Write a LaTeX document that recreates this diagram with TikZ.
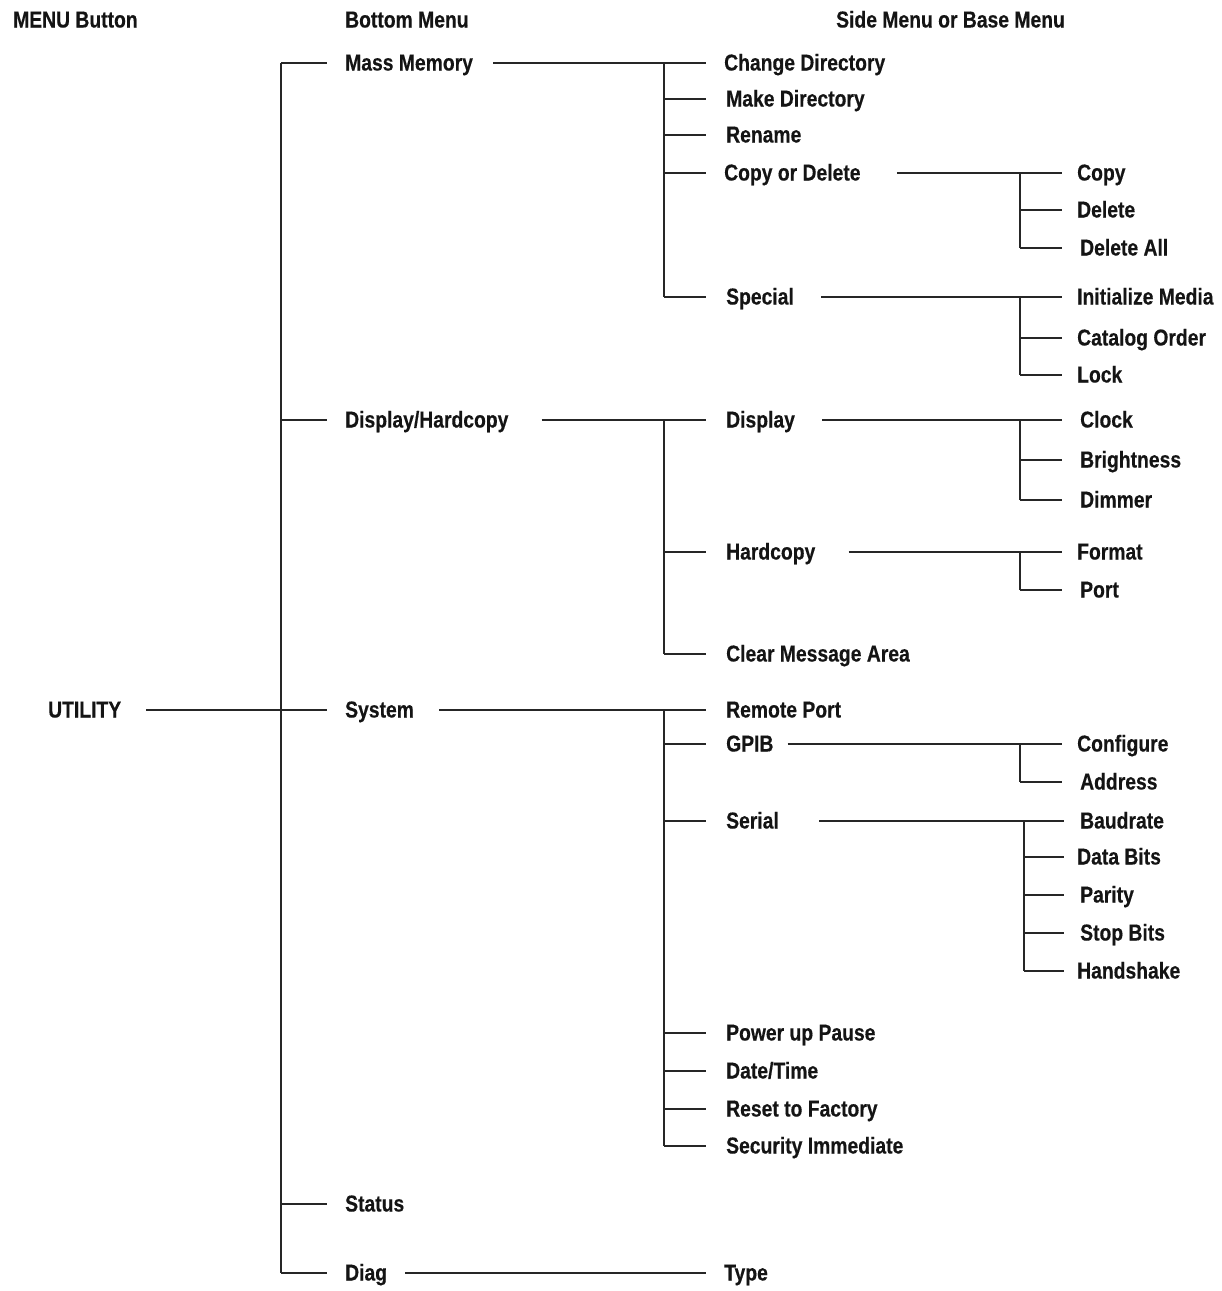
\documentclass[tikz,border=0pt]{standalone}
\usepackage{fontspec}
\setmainfont{Liberation Sans}[FakeStretch=0.84, FakeBold=0.4]
\usetikzlibrary{positioning, calc}
\tikzset{
    menuitem/.style={anchor=west, inner sep=0pt, text height=15pt, text depth=0pt, font=\bfseries\fontsize{23}{26}\selectfont, text=black!92},
    link/.style={draw=black!85, line width=1.3pt}
}

\begin{document}
\begin{tikzpicture}[x=1pt, y=-1pt]
        \useasboundingbox (0,0) rectangle (1222,1291);

        % Column headers
        \node[menuitem] (hbtn) at (13, 20) {MENU Button};
        \node[menuitem] (hbot) at (345, 20) {Bottom Menu};
        \node[menuitem] (hside) at (836, 20) {Side Menu or Base Menu};

        % Trunk positions
        \coordinate (lvone) at (281, 0);
        \coordinate (lvtwo) at (664, 0);
        \coordinate (lvthree) at (1020, 0);
        \coordinate (lvser) at (1024, 0);

        % Button and bottom menu
        \node[menuitem] (util) at (48, 710) {UTILITY};
        \node[menuitem] (mm) at (345, 63) {Mass Memory};
        \node[menuitem] (dh) at (345, 420) {Display/Hardcopy};
        \node[menuitem] (sys) at (345, 710) {System};
        \node[menuitem] (stat) at (345, 1204) {Status};
        \node[menuitem] (diag) at (345, 1273) {Diag};

        % Side menu
        \node[menuitem] (cd) at (724, 63) {Change Directory};
        \node[menuitem] (md) at (726, 99) {Make Directory};
        \node[menuitem] (ren) at (726, 135) {Rename};
        \node[menuitem] (cod) at (724, 173) {Copy or Delete};
        \node[menuitem] (spec) at (726, 297) {Special};
        \node[menuitem] (disp) at (726, 420) {Display};
        \node[menuitem] (hc) at (726, 552) {Hardcopy};
        \node[menuitem] (cma) at (726, 654) {Clear Message Area};
        \node[menuitem] (rp) at (726, 710) {Remote Port};
        \node[menuitem] (gpib) at (726, 744) {GPIB};
        \node[menuitem] (ser) at (726, 821) {Serial};
        \node[menuitem] (pup) at (726, 1033) {Power up Pause};
        \node[menuitem] (dt) at (726, 1071) {Date/Time};
        \node[menuitem] (rtf) at (726, 1109) {Reset to Factory};
        \node[menuitem] (sec) at (726, 1146) {Security Immediate};
        \node[menuitem] (type) at (724, 1273) {Type};

        % Base menu
        \node[menuitem] (copy) at (1077, 173) {Copy};
        \node[menuitem] (del) at (1077, 210) {Delete};
        \node[menuitem] (delall) at (1080, 248) {Delete All};
        \node[menuitem] (init) at (1077, 297) {Initialize Media};
        \node[menuitem] (cat) at (1077, 338) {Catalog Order};
        \node[menuitem] (lock) at (1077, 375) {Lock};
        \node[menuitem] (clock) at (1080, 420) {Clock};
        \node[menuitem] (bright) at (1080, 460) {Brightness};
        \node[menuitem] (dim) at (1080, 500) {Dimmer};
        \node[menuitem] (fmt) at (1077, 552) {Format};
        \node[menuitem] (port) at (1080, 590) {Port};
        \node[menuitem] (conf) at (1077, 744) {Configure};
        \node[menuitem] (addr) at (1080, 782) {Address};
        \node[menuitem] (baud) at (1080, 821) {Baudrate};
        \node[menuitem] (dbits) at (1077, 857) {Data Bits};
        \node[menuitem] (par) at (1080, 895) {Parity};
        \node[menuitem] (sbits) at (1080, 933) {Stop Bits};
        \node[menuitem] (hs) at (1077, 971) {Handshake};

        % UTILITY to bottom menu
        \draw[link] ([xshift=25]util.east) -- (util.east -| lvone);
        \draw[link] (mm.west -| lvone) -- (diag.west -| lvone);
        \foreach \n in {mm, dh, sys, stat, diag}
            \draw[link] (\n.west -| lvone) -- ([xshift=-18]\n.west);

        % Bottom menu to side menu
        \draw[link] ([xshift=20]mm.east) -- (mm.east -| lvtwo);
        \draw[link] (cd.west -| lvtwo) -- (spec.west -| lvtwo);
        \foreach \n in {cd, md, ren, cod, spec}
            \draw[link] (\n.west -| lvtwo) -- ([xshift=-18]\n.west -| cd.west);

        \draw[link] ([xshift=33]dh.east) -- (dh.east -| lvtwo);
        \draw[link] (disp.west -| lvtwo) -- (cma.west -| lvtwo);
        \foreach \n in {disp, hc, cma}
            \draw[link] (\n.west -| lvtwo) -- ([xshift=-18]\n.west -| cd.west);

        \draw[link] ([xshift=25]sys.east) -- (sys.east -| lvtwo);
        \draw[link] (rp.west -| lvtwo) -- (sec.west -| lvtwo);
        \foreach \n in {rp, gpib, ser, pup, dt, rtf, sec}
            \draw[link] (\n.west -| lvtwo) -- ([xshift=-18]\n.west -| cd.west);

        \draw[link] ([xshift=18]diag.east) -- ([xshift=-18]type.west);

        % Side menu to base menu
        \draw[link] ([xshift=36]cod.east) -- (cod.east -| lvthree);
        \draw[link] (copy.west -| lvthree) -- (delall.west -| lvthree);
        \foreach \n in {copy, del, delall}
            \draw[link] (\n.west -| lvthree) -- ([xshift=-15]\n.west -| copy.west);

        \draw[link] ([xshift=27]spec.east) -- (spec.east -| lvthree);
        \draw[link] (init.west -| lvthree) -- (lock.west -| lvthree);
        \foreach \n in {init, cat, lock}
            \draw[link] (\n.west -| lvthree) -- ([xshift=-15]\n.west -| copy.west);

        \draw[link] ([xshift=27]disp.east) -- (disp.east -| lvthree);
        \draw[link] (clock.west -| lvthree) -- (dim.west -| lvthree);
        \foreach \n in {clock, bright, dim}
            \draw[link] (\n.west -| lvthree) -- ([xshift=-15]\n.west -| copy.west);

        \draw[link] ([xshift=33]hc.east) -- (hc.east -| lvthree);
        \draw[link] (fmt.west -| lvthree) -- (port.west -| lvthree);
        \foreach \n in {fmt, port}
            \draw[link] (\n.west -| lvthree) -- ([xshift=-15]\n.west -| copy.west);

        \draw[link] ([xshift=14]gpib.east) -- (gpib.east -| lvthree);
        \draw[link] (conf.west -| lvthree) -- (addr.west -| lvthree);
        \foreach \n in {conf, addr}
            \draw[link] (\n.west -| lvthree) -- ([xshift=-15]\n.west -| copy.west);

        \draw[link] ([xshift=40]ser.east) -- (ser.east -| lvser);
        \draw[link] (baud.west -| lvser) -- (hs.west -| lvser);
        \foreach \n in {baud, dbits, par, sbits, hs}
            \draw[link] (\n.west -| lvser) -- ([xshift=-13]\n.west -| copy.west);
    \end{tikzpicture}
\end{document}
